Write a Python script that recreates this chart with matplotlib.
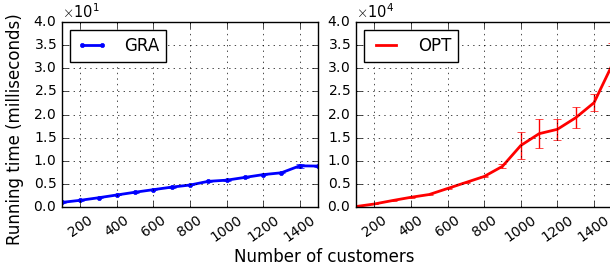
import matplotlib
matplotlib.use('Agg')
import matplotlib.pyplot as plt
import numpy as np
from matplotlib.ticker import ScalarFormatter

plt.style.use('classic')

# number of customers
customers = [100, 200, 300, 400, 500, 600, 700, 800, 900, 1000, 1100, 1200, 1300, 1400, 1500]

# GRA running time (ms) and spread
gra_time = [1.0, 1.45, 2.0, 2.6, 3.2, 3.75, 4.3, 4.75, 5.55, 5.8, 6.4, 7.0, 7.4, 8.9, 8.85]
gra_err = [0.1, 0.1, 0.1, 0.1, 0.1, 0.1, 0.1, 0.1, 0.15, 0.1, 0.15, 0.15, 0.15, 0.5, 0.3]

# OPT running time (ms) and spread
opt_time = [100, 650, 1400, 2100, 2700, 4000, 5300, 6600, 8800, 13300, 15850, 16800, 19300, 22550, 30800]
opt_err = [30, 30, 40, 50, 60, 80, 150, 150, 400, 2900, 3100, 2300, 2250, 1900, 4600]

fig = plt.figure(figsize=(6.1, 2.67), dpi=100)
ax1 = fig.add_axes([0.1016, 0.2247, 0.4197, 0.6929])
ax2 = fig.add_axes([0.5836, 0.2247, 0.4202, 0.6929])

# error bars first (thin), then the main lines on top
ax1.errorbar(customers, gra_time, yerr=gra_err, fmt='none', ecolor='b',
             elinewidth=1, capsize=3)
ax1.plot(customers, gra_time, color='b', marker='.', markersize=6,
         markeredgecolor='b', linewidth=2, label='GRA')

ax2.errorbar(customers, opt_time, yerr=opt_err, fmt='none', ecolor='r',
             elinewidth=1, capsize=3)
ax2.plot(customers, opt_time, color='r', linewidth=2, label='OPT')

for ax, top in [(ax1, 40), (ax2, 40000)]:
    ax.set_xlim(100, 1500)
    ax.set_ylim(0, top)
    ax.set_xticks(np.arange(200, 1500, 200))
    ax.set_yticks(np.linspace(0, top, 9))
    fmt = ScalarFormatter(useMathText=True)
    fmt.set_powerlimits((0, 0))
    ax.yaxis.set_major_formatter(fmt)
    ax.yaxis.get_offset_text().set_fontsize(10.5)
    ax.grid(True, linestyle=':', color='k')
    ax.tick_params(labelsize=10)
    for lab in ax.get_xticklabels():
        lab.set_rotation(35)
    ax.legend(loc='upper left', fontsize=12, numpoints=2, handlelength=1.8,
              handletextpad=1.0)

fig.text(0.025, 0.517, 'Running time (milliseconds)', rotation=90,
         ha='center', va='center', fontsize=12)
fig.text(0.531, 0.019, 'Number of customers', ha='center', va='baseline', fontsize=12)

fig.savefig('out.png', dpi=100)
